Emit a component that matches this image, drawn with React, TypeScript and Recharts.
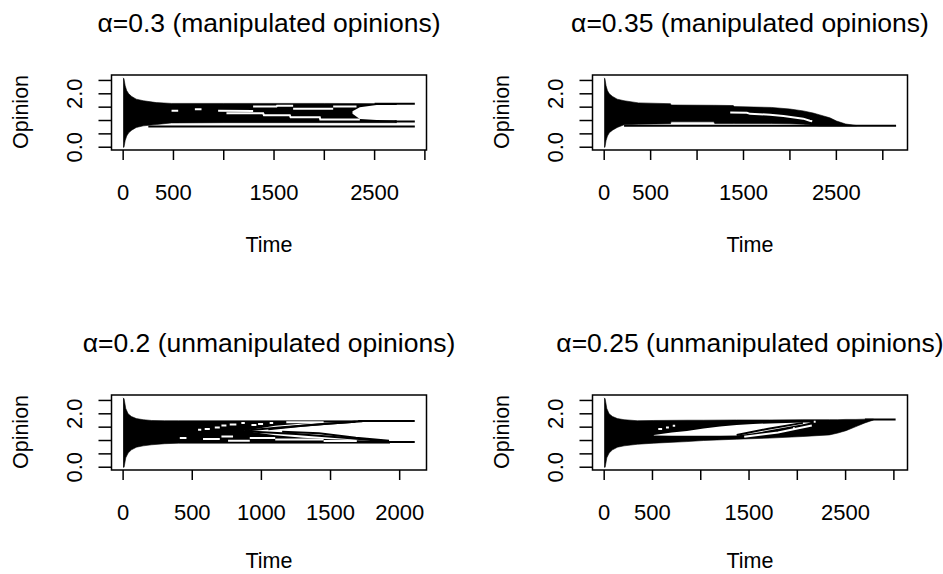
import React from "react";
import { ComposedChart, Area, Line, XAxis, YAxis, ReferenceArea } from "recharts";

type Pt = [number, number];
type Row = [number, number, number];

const FONT = '"Liberation Sans", Arial, sans-serif';

// shared y axis
const Y_TICKS = [0, 0.5, 1, 1.5, 2, 2.5];
const Y_LABELS = [0, 2];
const Y_DOMAIN: [number, number] = [-0.104, 2.704];

// ---------- Panel 1: alpha = 0.3 (manipulated) ----------
const P1_TITLE = "α=0.3 (manipulated opinions)";
const P1_XDOMAIN: [number, number] = [-116, 3016];
const P1_XTICKS = [0, 500, 1000, 1500, 2000, 2500, 3000];
const P1_XLABELS = [0, 500, 1500, 2500];
const P1_BAND: Row[] = [
  [0, 0.0, 2.6], [8, 0.0, 2.56], [20, 0.25, 2.3], [35, 0.42, 2.12], [55, 0.54, 2.0],
  [85, 0.64, 1.9], [130, 0.74, 1.8], [200, 0.8, 1.74], [330, 0.85, 1.67], [480, 0.91, 1.64],
  [1000, 0.92, 1.64], [2000, 0.92, 1.64], [2720, 0.92, 1.63],
];
const P1_HOLLOW: Row[] = [
  [2280, 1.25, 1.35], [2353, 1.06, 1.5], [2520, 1.02, 1.58], [2770, 1.01, 1.58],
];
const P1_BLACK: Pt[][] = [
  [[2500, 1.625], [2900, 1.625]],
  [[250, 0.78], [2900, 0.78]],
  [[2700, 0.96], [2900, 0.96]],
];
const P1_WHITE: Pt[][] = [
  [[481, 1.37], [547, 1.37]],
  [[713, 1.42], [779, 1.42]],
  [[944, 1.37], [1292, 1.36]],
  [[1292, 1.52], [1524, 1.52], [1530, 1.55], [1690, 1.55]],
  [[1690, 1.44], [2088, 1.44]],
  [[2088, 1.52], [2320, 1.52]],
  [[1027, 1.27], [1392, 1.27], [1400, 1.2], [1657, 1.2], [1665, 1.12], [1955, 1.12], [1960, 1.04], [2353, 1.04]],
];

// ---------- Panel 2: alpha = 0.35 (manipulated) ----------
const P2_TITLE = "α=0.35 (manipulated opinions)";
const P2_XDOMAIN: [number, number] = [-126, 3266];
const P2_XTICKS = [0, 500, 1000, 1500, 2000, 2500, 3000];
const P2_XLABELS = [0, 500, 1500, 2500];
const P2_BAND: Row[] = [
  [0, 0.0, 2.6], [8, 0.0, 2.56], [20, 0.25, 2.3], [35, 0.42, 2.12], [55, 0.54, 2.0],
  [90, 0.64, 1.9], [140, 0.74, 1.8], [214, 0.84, 1.74], [370, 0.86, 1.66], [714, 0.88, 1.63],
  [720, 0.95, 1.58], [1180, 0.95, 1.57], [1190, 0.89, 1.57], [1390, 0.89, 1.56], [1400, 0.89, 1.52],
  [1800, 0.89, 1.49], [2000, 0.88, 1.43], [2143, 0.86, 1.36], [2250, 0.82, 1.28], [2322, 0.8, 1.21],
  [2430, 0.8, 1.1], [2502, 0.8, 0.98], [2600, 0.8, 0.87], [2718, 0.8, 0.81],
];
const P2_HOLLOW: Row[] = [];
const P2_BLACK: Pt[][] = [
  [[214, 0.8], [3143, 0.8]],
];
const P2_WHITE: Pt[][] = [
  [[1357, 1.3], [1536, 1.29], [1571, 1.25], [1786, 1.22], [1930, 1.17], [2143, 1.07], [2214, 0.99], [2240, 0.97]],
];

// ---------- Panel 3: alpha = 0.2 (unmanipulated) ----------
const P3_TITLE = "α=0.2 (unmanipulated opinions)";
const P3_XDOMAIN: [number, number] = [-84, 2194];
const P3_XTICKS = [0, 500, 1000, 1500, 2000];
const P3_XLABELS = [0, 500, 1000, 1500, 2000];
const P3_BAND: Row[] = [
  [0, 0.0, 2.6], [7, 0.0, 2.56], [19, 0.35, 2.2], [36, 0.53, 2.0], [60, 0.65, 1.9],
  [96, 0.75, 1.82], [145, 0.8, 1.78], [205, 0.84, 1.75], [300, 0.88, 1.74], [400, 0.9, 1.74],
  [1200, 0.9, 1.74], [1930, 0.9, 1.74],
];
const P3_HOLLOW: Row[] = [
  [880, 1.36, 1.37], [1100, 1.2, 1.55], [1300, 1.1, 1.64], [1500, 1.05, 1.68],
  [1750, 1.0, 1.7], [1960, 0.98, 1.7],
];
const P3_BLACK: Pt[][] = [
  [[1700, 1.73], [2109, 1.73]],
  [[1900, 0.94], [2109, 0.94]],
  [[880, 1.37], [1150, 1.5], [1450, 1.62], [1730, 1.72]],
  [[1050, 1.42], [1300, 1.55], [1500, 1.64], [1680, 1.7]],
  [[880, 1.35], [1250, 1.24], [1600, 1.1], [1920, 0.96]],
  [[1150, 1.33], [1417, 1.27], [1683, 1.1], [1923, 0.99]],
];
const P3_WHITE: Pt[][] = [
  [[542, 1.4], [565, 1.4]], [[590, 1.43], [627, 1.43]], [[663, 1.49], [699, 1.49]],
  [[711, 1.56], [747, 1.56]], [[771, 1.6], [819, 1.6]], [[855, 1.66], [880, 1.66]],
  [[928, 1.58], [964, 1.58]], [[976, 1.62], [1012, 1.62]], [[1060, 1.66], [1085, 1.66]],
  [[1180, 1.68], [1450, 1.68]],
  [[410, 1.09], [458, 1.09]], [[578, 1.06], [699, 1.06]], [[711, 1.15], [795, 1.15]],
  [[759, 0.99], [916, 0.99]], [[916, 1.09], [1100, 1.09]], [[1100, 1.04], [1450, 1.04]],
  [[1450, 0.98], [1690, 0.98]],
];

// ---------- Panel 4: alpha = 0.25 (unmanipulated) ----------
const P4_TITLE = "α=0.25 (unmanipulated opinions)";
const P4_XDOMAIN: [number, number] = [-121, 3141];
const P4_XTICKS = [0, 500, 1000, 1500, 2000, 2500, 3000];
const P4_XLABELS = [0, 500, 1500, 2500];
const P4_BAND: Row[] = [
  [0, 0.0, 2.6], [10, 0.0, 2.56], [27, 0.35, 2.2], [51, 0.53, 2.0], [86, 0.65, 1.9],
  [137, 0.75, 1.82], [206, 0.8, 1.78], [343, 0.86, 1.74], [514, 0.9, 1.75], [857, 0.96, 1.76],
  [1029, 1.0, 1.76], [1372, 1.05, 1.77], [1715, 1.09, 1.77], [2058, 1.15, 1.78], [2332, 1.21, 1.78],
  [2420, 1.28, 1.78], [2504, 1.37, 1.79], [2607, 1.52, 1.79], [2700, 1.66, 1.8], [2790, 1.77, 1.8],
];
const P4_HOLLOW: Row[] = [
  [514, 1.19, 1.21], [700, 1.18, 1.3], [857, 1.18, 1.36], [1029, 1.18, 1.45], [1200, 1.18, 1.52],
  [1372, 1.19, 1.58], [1543, 1.27, 1.62], [1715, 1.38, 1.64], [1887, 1.5, 1.66], [2058, 1.61, 1.67],
  [2140, 1.67, 1.67],
];
const P4_BLACK: Pt[][] = [
  [[2700, 1.79], [3018, 1.79]],
  [[1372, 1.21], [1700, 1.44], [2058, 1.66]],
];
const P4_WHITE: Pt[][] = [
  [[560, 1.43], [600, 1.43]], [[640, 1.49], [670, 1.49]], [[710, 1.55], [735, 1.55]],
  [[1450, 1.14], [1800, 1.3], [2150, 1.56]],
  [[1955, 1.46], [1975, 1.46]], [[2170, 1.7], [2190, 1.7]],
];

type Cfg = {
  title: string;
  xDomain: [number, number];
  xTicks: number[];
  xLabels: number[];
  band: Row[];
  hollow: Row[];
  black: Pt[][];
  white: Pt[][];
};

const PANELS: { x: number; y: number; timeY: number; cfg: Cfg }[] = [
  { x: 0, y: 0, timeY: 252, cfg: { title: P1_TITLE, xDomain: P1_XDOMAIN, xTicks: P1_XTICKS, xLabels: P1_XLABELS, band: P1_BAND, hollow: P1_HOLLOW, black: P1_BLACK, white: P1_WHITE } },
  { x: 481, y: 0, timeY: 252, cfg: { title: P2_TITLE, xDomain: P2_XDOMAIN, xTicks: P2_XTICKS, xLabels: P2_XLABELS, band: P2_BAND, hollow: P2_HOLLOW, black: P2_BLACK, white: P2_WHITE } },
  { x: 0, y: 320, timeY: 248, cfg: { title: P3_TITLE, xDomain: P3_XDOMAIN, xTicks: P3_XTICKS, xLabels: P3_XLABELS, band: P3_BAND, hollow: P3_HOLLOW, black: P3_BLACK, white: P3_WHITE } },
  { x: 481, y: 320, timeY: 248, cfg: { title: P4_TITLE, xDomain: P4_XDOMAIN, xTicks: P4_XTICKS, xLabels: P4_XLABELS, band: P4_BAND, hollow: P4_HOLLOW, black: P4_BLACK, white: P4_WHITE } },
];

const PW = 471;
const PH = 287;
const PLOT_L = 111.5;
const PLOT_T = 75;
const PLOT_W = 315;
const PLOT_H = 75;
const YAX_W = 40;
const XAX_H = 40;

function YTick(props: any) {
  const { x, y, payload } = props;
  if (!Y_LABELS.includes(payload.value)) return <g />;
  return (
    <text
      x={x}
      y={y}
      transform={`rotate(-90 ${x} ${y})`}
      textAnchor="middle"
      fill="#000"
      fontSize={22}
      fontFamily={FONT}
    >
      {Number(payload.value).toFixed(1)}
    </text>
  );
}

function Panel({ x, y, timeY, cfg }: { x: number; y: number; timeY: number; cfg: Cfg }) {
  const band = cfg.band.map(([t, lo, hi]) => ({ t, r: [lo, hi] }));
  const hollow = cfg.hollow.map(([t, lo, hi]) => ({ t, r: [lo, hi] }));
  const cx = PLOT_L + PLOT_W / 2;
  return (
    <div style={{ position: "absolute", left: x, top: y, width: PW, height: PH }}>
      <ComposedChart
        width={PW}
        height={PH}
        margin={{ top: PLOT_T, left: PLOT_L - YAX_W, right: PW - PLOT_L - PLOT_W, bottom: PH - PLOT_T - PLOT_H - XAX_H }}
      >
        <XAxis
          type="number"
          dataKey="t"
          domain={cfg.xDomain}
          ticks={cfg.xTicks}
          interval={0}
          allowDataOverflow
          height={XAX_H}
          tickSize={10}
          tickMargin={24}
          axisLine={false}
          tickLine={{ stroke: "#000", strokeWidth: 1.5 }}
          tick={{ fill: "#000", fontSize: 22, fontFamily: FONT }}
          tickFormatter={(v: number) => (cfg.xLabels.includes(v) ? String(v) : "")}
        />
        <YAxis
          type="number"
          domain={Y_DOMAIN}
          ticks={Y_TICKS}
          interval={0}
          allowDataOverflow
          width={YAX_W}
          tickSize={13}
          tickMargin={16.5}
          axisLine={false}
          tickLine={{ stroke: "#000", strokeWidth: 1.5 }}
          tick={(p: any) => <YTick {...p} />}
        />
        <Area
          data={band}
          dataKey="r"
          type="linear"
          stroke="#000"
          strokeWidth={0.6}
          fill="#000"
          fillOpacity={1}
          dot={false}
          activeDot={false}
          isAnimationActive={false}
        />
        {hollow.length > 0 && (
          <Area
            data={hollow}
            dataKey="r"
            type="linear"
            stroke="none"
            fill="#fff"
            fillOpacity={1}
            dot={false}
            activeDot={false}
            isAnimationActive={false}
          />
        )}
        {cfg.white.map((seg, i) => (
          <Line
            key={"w" + i}
            data={seg.map(([t, v]) => ({ t, v }))}
            dataKey="v"
            type="linear"
            stroke="#fff"
            strokeWidth={2}
            dot={false}
            activeDot={false}
            isAnimationActive={false}
          />
        ))}
        {cfg.black.map((seg, i) => (
          <Line
            key={"b" + i}
            data={seg.map(([t, v]) => ({ t, v }))}
            dataKey="v"
            type="linear"
            stroke="#000"
            strokeWidth={2}
            dot={false}
            activeDot={false}
            isAnimationActive={false}
          />
        ))}
        <ReferenceArea
          x1={cfg.xDomain[0]}
          x2={cfg.xDomain[1]}
          y1={Y_DOMAIN[0]}
          y2={Y_DOMAIN[1]}
          fill="none"
          fillOpacity={0}
          stroke="#000"
          strokeWidth={1.5}
          ifOverflow="visible"
        />
      </ComposedChart>
      <svg
        width={PW}
        height={PH}
        style={{ position: "absolute", left: 0, top: 0, pointerEvents: "none" }}
      >
        <text x={cx} y={32} textAnchor="middle" fontSize={26.5} fontFamily={FONT} fill="#000">
          {cfg.title}
        </text>
        <text x={cx} y={timeY} textAnchor="middle" fontSize={21.5} fontFamily={FONT} fill="#000">
          Time
        </text>
        <text
          x={27.5}
          y={112}
          transform="rotate(-90 27.5 112)"
          textAnchor="middle"
          fontSize={21.5}
          fontFamily={FONT}
          fill="#000"
        >
          Opinion
        </text>
      </svg>
    </div>
  );
}

export default function App() {
  return (
    <div style={{ position: "absolute", left: 0, top: 0, width: 943, height: 574, background: "#fff", overflow: "hidden" }}>
      {PANELS.map((p, i) => (
        <Panel key={i} x={p.x} y={p.y} timeY={p.timeY} cfg={p.cfg} />
      ))}
    </div>
  );
}
